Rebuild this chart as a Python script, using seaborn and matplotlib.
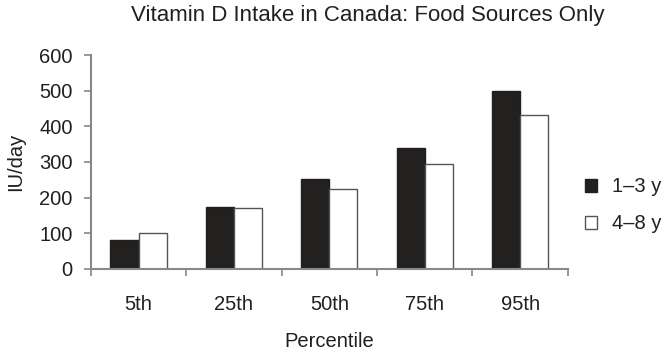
import matplotlib
matplotlib.use("Agg")
import matplotlib.pyplot as plt
import seaborn as sns
import pandas as pd
from matplotlib.ticker import FixedLocator
from matplotlib.patches import Patch

percentiles = ["5th", "25th", "50th", "75th", "95th"]
age_1_3 = [82, 174, 253, 339, 499]
age_4_8 = [101, 170, 225, 295, 432]
series_names = ["1\u20133 y", "4\u20138 y"]

df = pd.DataFrame({
    "Percentile": percentiles * 2,
    "IU/day": age_1_3 + age_4_8,
    "Group": [series_names[0]] * 5 + [series_names[1]] * 5,
})

sns.set_theme(style="white")
plt.rcParams["font.family"] = ["Liberation Sans", "DejaVu Sans"]

fig = plt.figure(figsize=(6.68, 3.51), dpi=100)
ax = fig.add_axes([0.136, 0.234, 0.714, 0.609])

sns.barplot(data=df, x="Percentile", y="IU/day", hue="Group", order=percentiles,
            hue_order=series_names, palette=["#231f20", "white"], width=0.59,
            edgecolor="#555555", linewidth=1.0, ax=ax, legend=False)
for p in ax.patches[:5]:
    p.set_edgecolor("#231f20")

fs = 14.5
ax.set_xlim(-0.5, 4.5)
ax.set_ylim(0, 600)
ax.set_yticks(range(0, 601, 100))
ax.tick_params(axis="y", which="major", length=5, width=1.2, color="#888888",
               direction="out", labelsize=fs, left=True, pad=8, labelcolor="#231f20")
ax.tick_params(axis="x", which="major", length=0, labelsize=fs, pad=19,
               labelcolor="#231f20")
ax.xaxis.set_minor_locator(FixedLocator([-0.5, 0.5, 1.5, 2.5, 3.5, 4.5]))
ax.tick_params(axis="x", which="minor", length=5, width=1.2, color="#888888",
               direction="out", bottom=True)
for side in ["top", "right"]:
    ax.spines[side].set_visible(False)
for side in ["left", "bottom"]:
    ax.spines[side].set_color("#888888")
    ax.spines[side].set_linewidth(1.5)

ax.set_xlabel("Percentile", fontsize=fs, labelpad=13, color="#231f20")
ax.set_ylabel("IU/day", fontsize=fs, labelpad=10, color="#231f20")
fig.suptitle("Vitamin D Intake in Canada: Food Sources Only", fontsize=16,
             x=0.55, y=0.985, color="#231f20")

handles = [Patch(facecolor="#231f20", edgecolor="#231f20"),
           Patch(facecolor="white", edgecolor="#555555")]
leg = fig.legend(handles, series_names, loc="center left", bbox_to_anchor=(0.848, 0.415),
                 frameon=False, fontsize=fs, handlelength=0.6, handleheight=0.6,
                 labelspacing=0.9, handletextpad=0.75)
for t in leg.get_texts():
    t.set_color("#231f20")

fig.savefig("out.png", dpi=100)
